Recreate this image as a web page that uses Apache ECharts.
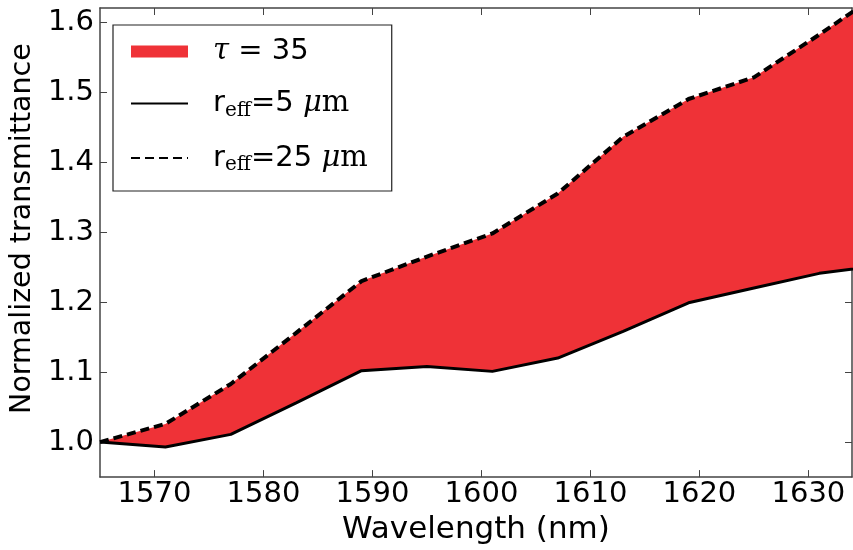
<!DOCTYPE html>
<html>
<head>
<meta charset="utf-8">
<script src="https://cdn.jsdelivr.net/npm/echarts@6/dist/echarts.min.js"></script>
<style>
  html, body { margin: 0; padding: 0; background: #fff; }
  #myChart { width: 853px; height: 550px; }
</style>
</head>
<body>
<div id="myChart"></div>
<script>
// wavelengths (nm)
var wavelength = [1565, 1571, 1577, 1583, 1589, 1595, 1601, 1607, 1613, 1619, 1625, 1631, 1637];
// r_eff = 5 um (solid, lower edge of the band)
var reff5 = [1.000, 0.993, 1.011, 1.056, 1.102, 1.108, 1.101, 1.120, 1.158, 1.199, 1.220, 1.241, 1.253];
// r_eff = 25 um (dashed, upper edge of the band)
var reff25 = [1.000, 1.026, 1.083, 1.156, 1.230, 1.265, 1.298, 1.355, 1.436, 1.490, 1.521, 1.582, 1.646];
var xTicks = [1570, 1580, 1590, 1600, 1610, 1620, 1630];
var yTicks = [1.0, 1.1, 1.2, 1.3, 1.4, 1.5, 1.6];

var font = 'DejaVu Sans';
var frame = '#444';

// value first so that stacking happens on the y dimension
var lower = wavelength.map(function (w, i) { return [reff5[i], w]; });
var upper = wavelength.map(function (w, i) { return [reff25[i], w]; });
var band = wavelength.map(function (w, i) { return [reff25[i] - reff5[i], w]; });

var myChart = echarts.init(document.getElementById('myChart'));

function frameAxis (extra) {
  return Object.assign({
    type: 'value',
    axisLine: { show: true, onZero: false, lineStyle: { color: frame, width: 1.5 } },
    splitLine: { show: false }
  }, extra);
}

myChart.setOption({
  animation: false,
  backgroundColor: '#fff',
  grid: { left: 97, right: 1, top: 8, bottom: 70, containLabel: false },
  legend: {
    orient: 'vertical',
    left: 113,
    top: 25,
    padding: [12, 24, 16, 17],
    itemGap: 23,
    itemWidth: 57,
    itemHeight: 12,
    backgroundColor: '#fff',
    borderColor: '#222',
    borderWidth: 1.2,
    borderRadius: 0,
    data: [
      { name: 'tau', icon: 'rect' },
      { name: 'r5', itemStyle: { opacity: 0 } },
      { name: 'r25', itemStyle: { opacity: 0 } }
    ],
    formatter: function (name) {
      if (name === 'tau') return '{it|τ} = 35';
      if (name === 'r5') return 'r{sub|eff}=5 {it|μ}{rm|m}';
      return 'r{sub|eff}=25 {it|μ}{rm|m}';
    },
    textStyle: {
      fontFamily: font,
      fontSize: 29,
      color: '#000',
      padding: [0, 0, 0, 20],
      rich: {
        it: { fontFamily: 'DejaVu Serif', fontStyle: 'italic', fontSize: 29, color: '#000' },
        rm: { fontFamily: 'DejaVu Serif', fontSize: 29, color: '#000' },
        sub: { fontFamily: 'DejaVu Serif', fontSize: 20, color: '#000', verticalAlign: 'bottom', padding: [14, 0, 0, 0] }
      }
    }
  },
  xAxis: [
    frameAxis({
      position: 'bottom',
      min: 1565,
      max: 1634,
      name: 'Wavelength (nm)',
      nameLocation: 'middle',
      nameGap: 32,
      nameTextStyle: { fontFamily: font, fontSize: 31, color: '#000' },
      axisTick: { show: true, inside: true, length: 7, customValues: xTicks, lineStyle: { color: frame } },
      axisLabel: {
        show: true, margin: 3, customValues: xTicks, fontFamily: font, fontSize: 29, color: '#000',
        formatter: function (v) { return String(v); }
      }
    }),
    frameAxis({
      position: 'top',
      min: 1565,
      max: 1634,
      axisTick: { show: true, inside: true, length: 7, customValues: xTicks, lineStyle: { color: frame } },
      axisLabel: { show: false }
    })
  ],
  yAxis: [
    frameAxis({
      position: 'left',
      min: 0.95,
      max: 1.62,
      name: 'Normalized transmittance',
      nameLocation: 'middle',
      nameGap: 58,
      nameTextStyle: { fontFamily: font, fontSize: 28.5, color: '#000', padding: [0, 0, 0, 28] },
      axisTick: { show: true, inside: true, length: 7, customValues: yTicks, lineStyle: { color: frame } },
      axisLabel: {
        show: true, margin: 6, customValues: yTicks, fontFamily: font, fontSize: 29, color: '#000',
        formatter: function (v) { return v.toFixed(1); }
      }
    }),
    frameAxis({
      position: 'right',
      min: 0.95,
      max: 1.62,
      axisTick: { show: true, inside: true, length: 7, customValues: yTicks, lineStyle: { color: frame } },
      axisLabel: { show: false }
    })
  ],
  series: [
    {
      name: 'r5',
      type: 'line',
      stack: 'band',
      data: lower,
      encode: { x: 1, y: 0 },
      symbol: 'none',
      color: '#000',
      lineStyle: { color: '#000', width: 3 },
      z: 4
    },
    {
      name: 'tau',
      type: 'line',
      stack: 'band',
      data: band,
      encode: { x: 1, y: 0 },
      symbol: 'none',
      color: '#ef3237',
      lineStyle: { width: 0 },
      areaStyle: { color: '#ef3237', opacity: 1 },
      z: 2
    },
    {
      name: 'r25',
      type: 'line',
      data: upper,
      encode: { x: 1, y: 0 },
      symbol: 'none',
      color: '#000',
      lineStyle: { color: '#000', width: 4, type: [9, 5] },
      z: 5
    }
  ]
});
</script>
</body>
</html>
